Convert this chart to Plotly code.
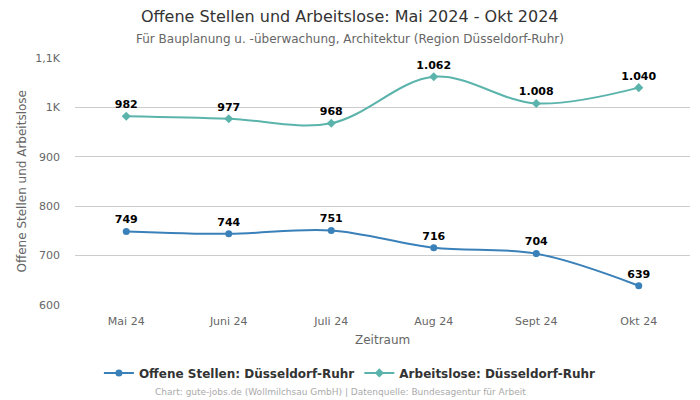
import plotly.graph_objects as go

categories = ["Mai 24", "Juni 24", "Juli 24", "Aug 24", "Sept 24", "Okt 24"]
offene_stellen = [749, 744, 751, 716, 704, 639]
arbeitslose = [982, 977, 968, 1062, 1008, 1040]
tick_vals = [600, 700, 800, 900, 1000, 1100]
tick_text = ["600", "700", "800", "900", "1K", "1,1K"]


def fmt(v):
    return f"{v:,}".replace(",", ".")


font = "DejaVu Sans"
fig = go.Figure()
fig.add_trace(go.Scatter(
    x=categories, y=offene_stellen, name="Offene Stellen: Düsseldorf-Ruhr",
    mode="lines+markers+text", line=dict(color="#3a80b9", width=2, shape="spline"),
    marker=dict(symbol="circle", size=7, color="#3a80b9"),
    text=[fmt(v) for v in offene_stellen], textposition="top center",
    textfont=dict(family=font, size=11, color="#000000", weight="bold"),
))
fig.add_trace(go.Scatter(
    x=categories, y=arbeitslose, name="Arbeitslose: Düsseldorf-Ruhr",
    mode="lines+markers+text", line=dict(color="#5ab4ac", width=2, shape="spline"),
    marker=dict(symbol="diamond", size=7, color="#5ab4ac"),
    text=[fmt(v) for v in arbeitslose], textposition="top center",
    textfont=dict(family=font, size=11, color="#000000", weight="bold"),
))
fig.update_layout(
    width=692, height=392, paper_bgcolor="white", plot_bgcolor="white",
    margin=dict(l=67, r=10, t=50, b=95, autoexpand=False),
    font=dict(family=font, color="#666666", size=11),
    showlegend=True,
    legend=dict(orientation="h", x=0.447, xanchor="center", y=-0.275, yanchor="middle",
                font=dict(size=12, color="#333333", family=font, weight="bold")),
    xaxis=dict(range=[-0.5, 5.5], showgrid=False, ticks="", showline=False, automargin=False,
               ticklabelstandoff=8,
               tickfont=dict(size=11, color="#666666")),
    yaxis=dict(range=[600, 1100], tickvals=tick_vals, ticktext=tick_text, automargin=False,
               showgrid=True, gridcolor="#cccccc", zeroline=False, showline=False,
               ticklabelstandoff=14,
               tickfont=dict(size=11, color="#666666")),
    annotations=[
        dict(text="Offene Stellen und Arbeitslose: Mai 2024 - Okt 2024",
             xref="paper", yref="paper", x=0.447, y=1.166, xanchor="center", yanchor="middle",
             showarrow=False, font=dict(size=16, color="#333333")),
        dict(text="Für Bauplanung u. -überwachung, Architektur (Region Düsseldorf-Ruhr)",
             xref="paper", yref="paper", x=0.447, y=1.077, xanchor="center", yanchor="middle",
             showarrow=False, font=dict(size=12, color="#666666")),
        dict(text="Zeitraum",
             xref="paper", yref="paper", x=0.5, y=-0.1417, xanchor="center", yanchor="middle",
             showarrow=False, font=dict(size=12, color="#666666")),
        dict(text="Offene Stellen und Arbeitslose", textangle=-90,
             xref="paper", yref="paper", x=-0.0862, y=0.5, xanchor="center", yanchor="middle",
             showarrow=False, font=dict(size=12, color="#666666")),
        dict(text="Chart: gute-jobs.de (Wollmilchsau GmbH) | Datenquelle: Bundesagentur für Arbeit",
             xref="paper", yref="paper", x=0.431, y=-0.352, xanchor="center", yanchor="middle",
             showarrow=False, font=dict(size=9, color="#aaaaaa"))],
)
fig.write_html("out.html")
